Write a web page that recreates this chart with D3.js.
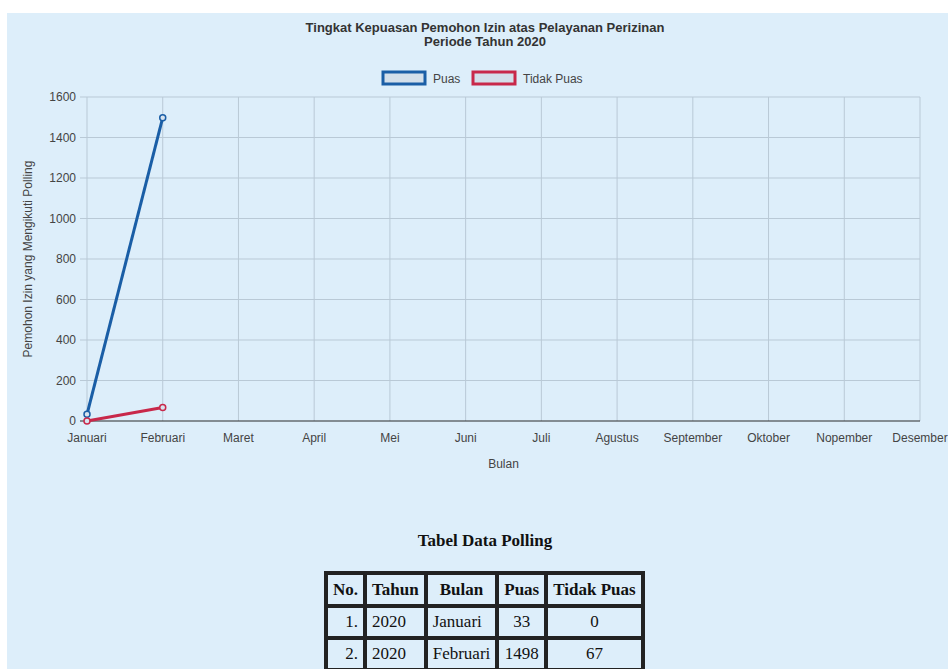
<!DOCTYPE html>
<html>
<head>
<meta charset="utf-8">
<script src="https://cdn.jsdelivr.net/npm/d3@7"></script>
<style>
  html, body { margin: 0; padding: 0; background: #fff; overflow: hidden; }
  #page {
    position: absolute; left: 7px; top: 13px; width: 941px; height: 656px;
    background: #ddeefa;
  }
  svg { position: absolute; left: 0; top: 0; }
  #tbl-title {
    position: absolute; left: 0; width: 970px; top: 531px; text-align: center;
    font-family: "Liberation Serif", "Times New Roman", serif; font-weight: bold; font-size: 17px;
    color: #111;
  }
  table {
    position: absolute; left: 324px; top: 571px;
    border: 2px solid #222; border-collapse: separate; border-spacing: 0;
    font-family: "Liberation Serif", "Times New Roman", serif; font-size: 17px; color: #111;
  }
  th, td { border: 2px solid #222; padding: 0 5px; height: 28px; }
  th { font-weight: bold; height: 29px; }
</style>
</head>
<body>
<div id="page"></div>
<svg width="948" height="669"></svg>
<div id="tbl-title">Tabel Data Polling</div>
<table id="tbl"></table>
<script>
var svg = d3.select("svg");

var months = ["Januari", "Februari", "Maret", "April", "Mei", "Juni", "Juli",
    "Agustus", "September", "Oktober", "Nopember", "Desember"];
var puas = [33, 1498];
var tidakPuas = [0, 67];
var yTicks = [0, 200, 400, 600, 800, 1000, 1200, 1400, 1600];
var tahun = ["2020", "2020"];

var series = [
    { name: "Puas", values: puas, color: "#1a5ea6" },
    { name: "Tidak Puas", values: tidakPuas, color: "#c8284a" }
];

var plotLeft = 87, plotRight = 920, plotTop = 97, plotBottom = 421;

var x = d3.scalePoint()
    .domain(months)
    .range([plotLeft, plotRight]);

var y = d3.scaleLinear()
    .domain([0, 1600])
    .range([plotBottom, plotTop]);

var font = "Liberation Sans, Arial, sans-serif";

// grid lines
svg.append("g")
    .selectAll("line")
    .data(months)
    .enter().append("line")
    .attr("x1", d => x(d)).attr("x2", d => x(d))
    .attr("y1", plotTop).attr("y2", plotBottom)
    .attr("stroke", "#b9c9d6").attr("stroke-width", 1);

svg.append("g")
    .selectAll("line")
    .data(yTicks.filter(d => d > 0))
    .enter().append("line")
    .attr("x1", plotLeft - 7).attr("x2", plotRight)
    .attr("y1", d => y(d)).attr("y2", d => y(d))
    .attr("stroke", "#b9c9d6").attr("stroke-width", 1);

// x axis line
svg.append("line")
    .attr("x1", plotLeft - 7).attr("x2", plotRight)
    .attr("y1", y(0)).attr("y2", y(0))
    .attr("stroke", "#2b2b2b").attr("stroke-width", 1.2);

// y tick labels
svg.append("g")
    .selectAll("text")
    .data(yTicks)
    .enter().append("text")
    .attr("x", plotLeft - 11)
    .attr("y", d => y(d) + 4)
    .attr("text-anchor", "end")
    .style("font-family", font).style("font-size", "12px").style("fill", "#444")
    .text(d => d);

// x tick labels
svg.append("g")
    .selectAll("text")
    .data(months)
    .enter().append("text")
    .attr("x", d => x(d))
    .attr("y", plotBottom + 21)
    .attr("text-anchor", "middle")
    .style("font-family", font).style("font-size", "12px").style("fill", "#444")
    .text(d => d);

// axis titles
svg.append("text")
    .attr("x", (plotLeft + plotRight) / 2).attr("y", 468)
    .attr("text-anchor", "middle")
    .style("font-family", font).style("font-size", "12px").style("fill", "#444")
    .text("Bulan");

svg.append("text")
    .attr("transform", "translate(32," + ((plotTop + plotBottom) / 2) + ") rotate(-90)")
    .attr("text-anchor", "middle")
    .style("font-family", font).style("font-size", "12px").style("fill", "#444")
    .text("Pemohon Izin yang Mengikuti Polling");

// title
var title = ["Tingkat Kepuasan Pemohon Izin atas Pelayanan Perizinan", "Periode Tahun 2020"];
svg.append("g")
    .selectAll("text")
    .data(title)
    .enter().append("text")
    .attr("x", 485)
    .attr("y", (d, i) => 32 + i * 14)
    .attr("text-anchor", "middle")
    .style("font-family", font).style("font-size", "13px").style("font-weight", "bold").style("fill", "#333")
    .text(d => d);

// legend
var legendX = [383, 473];
var legend = svg.append("g")
    .selectAll("g")
    .data(series)
    .enter().append("g")
    .attr("transform", (d, i) => "translate(" + legendX[i] + ",72)");

legend.append("rect")
    .attr("width", 42).attr("height", 12)
    .attr("fill", "#d3dfea")
    .attr("stroke", d => d.color).attr("stroke-width", 3);

legend.append("text")
    .attr("x", 50).attr("y", 10.5)
    .style("font-family", font).style("font-size", "12px").style("fill", "#444")
    .text(d => d.name);

// lines
var line = d3.line()
    .x((d, i) => x(months[i]))
    .y(d => y(d));

series.forEach(s => {
    svg.append("path")
        .datum(s.values)
        .attr("d", line)
        .attr("fill", "none")
        .attr("stroke", s.color)
        .attr("stroke-width", 3);

    svg.append("g")
        .selectAll("circle")
        .data(s.values)
        .enter().append("circle")
        .attr("cx", (d, i) => x(months[i]))
        .attr("cy", d => y(d))
        .attr("r", 3)
        .attr("fill", "#d8e3ee")
        .attr("stroke", s.color)
        .attr("stroke-width", 1.5);
});

// table
var tbl = d3.select("#tbl");
var head = ["No.", "Tahun", "Bulan", "Puas", "Tidak Puas"];
tbl.append("tr")
    .selectAll("th")
    .data(head)
    .enter().append("th")
    .text(d => d);

var rows = puas.map((p, i) => [(i + 1) + ".", tahun[i], months[i], p, tidakPuas[i]]);
var align = ["right", "left", "left", "center", "center"];
tbl.selectAll("tr.row")
    .data(rows)
    .enter().append("tr")
    .attr("class", "row")
    .selectAll("td")
    .data(d => d)
    .enter().append("td")
    .style("text-align", (d, i) => align[i])
    .text(d => d);
</script>
</body>
</html>
